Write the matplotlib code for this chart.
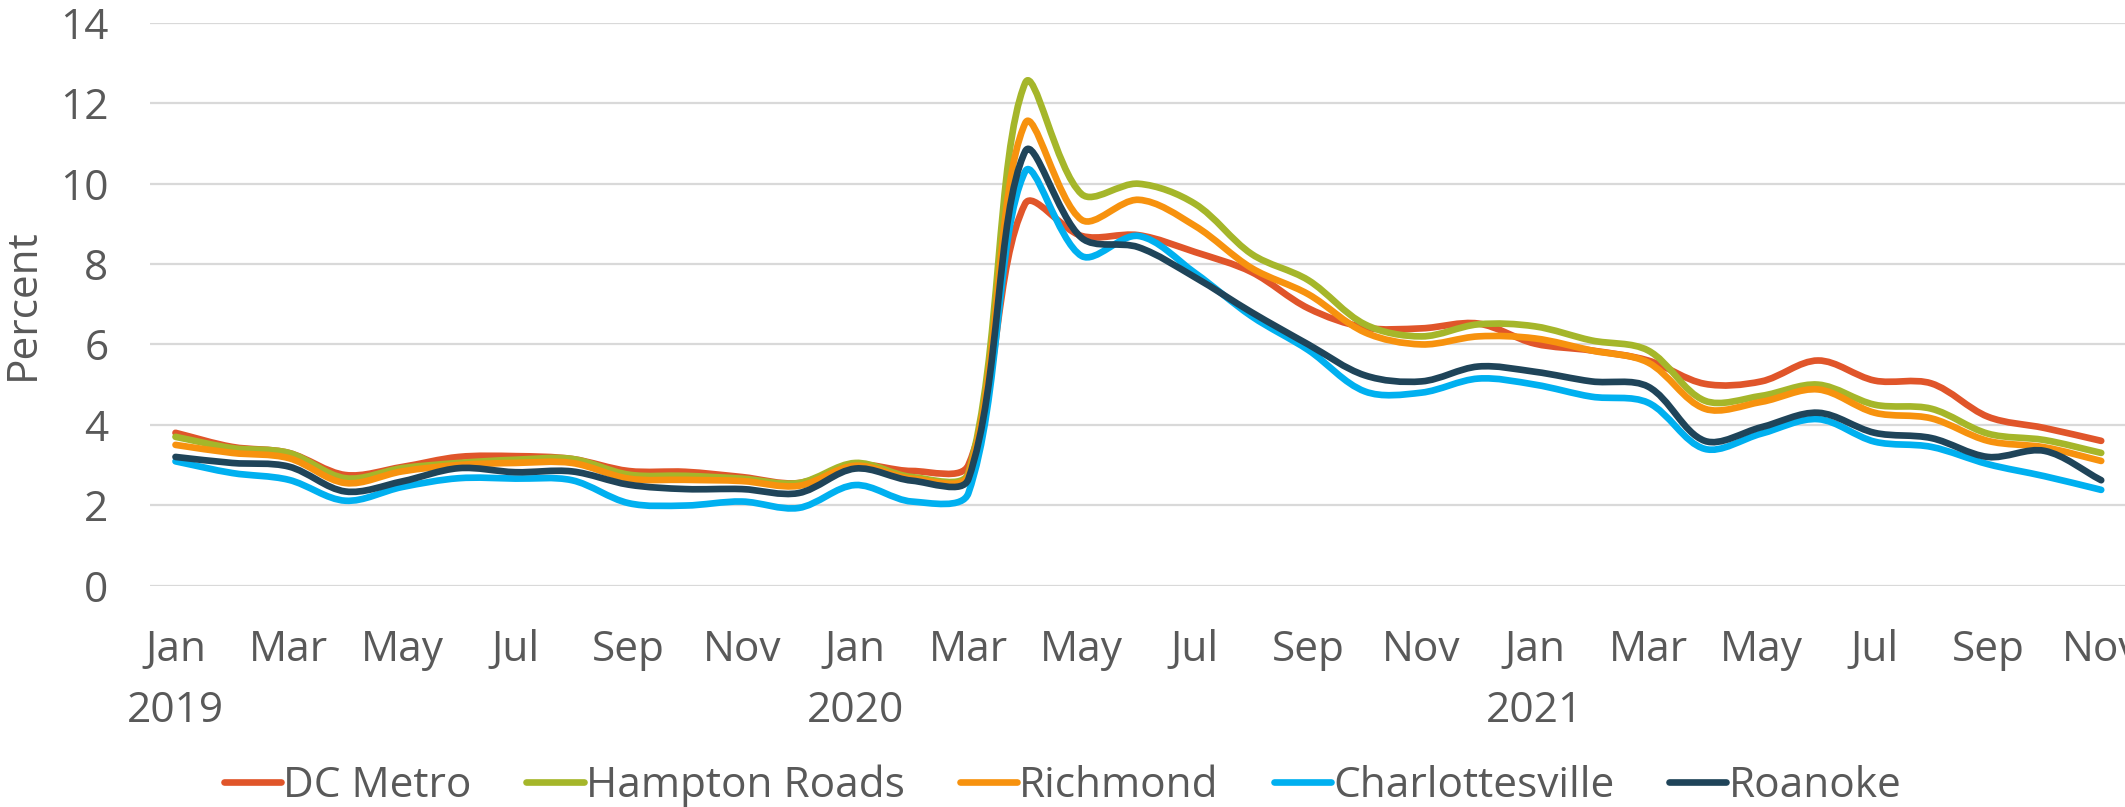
import numpy as np
import matplotlib
matplotlib.use("Agg")
import matplotlib.pyplot as plt
from matplotlib.path import Path
from matplotlib.patches import PathPatch
from matplotlib.lines import Line2D

plt.rcParams['font.family'] = ['Open Sans', 'DejaVu Sans']

# ---- data (monthly, Jan 2019 .. Nov 2021) ----
month_names = ['Jan', 'Feb', 'Mar', 'Apr', 'May', 'Jun',
               'Jul', 'Aug', 'Sep', 'Oct', 'Nov', 'Dec']
years = ['2019', '2020', '2021']
n_months = 35

dc_metro = [3.8, 3.45, 3.3, 2.75, 2.95, 3.2, 3.22, 3.15, 2.85, 2.83, 2.7, 2.55,
            3.0, 2.85, 3.0, 9.5, 8.7, 8.72, 8.3, 7.8, 6.9, 6.42, 6.4, 6.52,
            6.02, 5.85, 5.6, 5.02, 5.08, 5.6, 5.1, 5.03, 4.2, 3.92, 3.6]
hampton_roads = [3.7, 3.42, 3.3, 2.67, 2.92, 3.05, 3.13, 3.15, 2.76, 2.73, 2.66, 2.55,
                 3.05, 2.7, 2.8, 12.5, 9.74, 10.0, 9.5, 8.25, 7.6, 6.5, 6.2, 6.5,
                 6.45, 6.1, 5.85, 4.6, 4.72, 5.0, 4.5, 4.4, 3.78, 3.62, 3.3]
richmond = [3.5, 3.3, 3.17, 2.55, 2.84, 3.0, 3.05, 3.05, 2.66, 2.63, 2.6, 2.48,
            2.98, 2.66, 2.75, 11.5, 9.1, 9.6, 8.95, 7.9, 7.25, 6.3, 6.0, 6.2,
            6.15, 5.85, 5.55, 4.4, 4.57, 4.88, 4.3, 4.16, 3.6, 3.44, 3.1]
charlottesville = [3.09, 2.8, 2.63, 2.11, 2.45, 2.67, 2.66, 2.62, 2.05, 1.99, 2.09, 1.93,
                   2.5, 2.09, 2.3, 10.3, 8.2, 8.7, 7.78, 6.7, 5.86, 4.83, 4.8, 5.15,
                   5.0, 4.7, 4.55, 3.4, 3.78, 4.14, 3.58, 3.45, 3.02, 2.72, 2.38]
roanoke = [3.2, 3.05, 2.96, 2.34, 2.59, 2.92, 2.82, 2.84, 2.51, 2.40, 2.40, 2.30,
           2.91, 2.61, 2.65, 10.8, 8.65, 8.42, 7.67, 6.8, 6.0, 5.23, 5.08, 5.45,
           5.32, 5.08, 4.95, 3.6, 3.94, 4.3, 3.8, 3.67, 3.2, 3.35, 2.62]

series_names = ['DC Metro', 'Hampton Roads', 'Richmond', 'Charlottesville', 'Roanoke']
series_values = [dc_metro, hampton_roads, richmond, charlottesville, roanoke]
colors = ['#E0552A', '#A5B62A', '#F7920E', '#00B0F0', '#1F4459']

TEXT = '#595959'
FS = 30.5

W, H = 2125, 807
ax_left, ax_bottom_px, ax_top_px = 150, 585.5, 23
XLIM = (-0.45, 34.42)
YLIM = (0, 14)
SX = (W - ax_left) / (XLIM[1] - XLIM[0])          # px per month
SY = (ax_bottom_px - ax_top_px) / (YLIM[1] - YLIM[0])  # px per percent


def smooth_path(xs, ys):
    """Excel-style smoothed line: cubic Bezier through points, tangents
    weighted by neighbouring segment lengths measured on screen."""
    pts = np.column_stack([xs, ys]).astype(float)
    scr = pts * np.array([SX, SY])
    n = len(pts)

    def d(a, b):
        return np.hypot(*(scr[b] - scr[a]))

    verts = [pts[0]]
    codes = [Path.MOVETO]
    for i in range(n - 1):
        i0 = max(i - 1, 0)
        i3 = min(i + 2, n - 1)
        p0, p1, p2, p3 = pts[i0], pts[i], pts[i + 1], pts[i3]
        d01, d12, d23 = d(i0, i), d(i, i + 1), d(i + 1, i3)
        f1 = d12 / (d01 + d12) / 3.0 if d01 + d12 > 0 else 0
        f2 = d12 / (d12 + d23) / 3.0 if d12 + d23 > 0 else 0
        c1 = p1 + (p2 - p0) * f1
        c2 = p2 - (p3 - p1) * f2
        verts += [c1, c2, p2]
        codes += [Path.CURVE4] * 3
    return Path(verts, codes)


fig = plt.figure(figsize=(W / 100, H / 100), dpi=100)
ax = fig.add_axes([ax_left / W, (H - ax_bottom_px) / H,
                   1 - ax_left / W, (ax_bottom_px - ax_top_px) / H])

x = np.arange(n_months)
for name, vals, col in zip(series_names, series_values, colors):
    patch = PathPatch(smooth_path(x, vals), fill=False, edgecolor=col, lw=4.8,
                      capstyle='round', joinstyle='round', zorder=3)
    ax.add_patch(patch)

ax.set_xlim(*XLIM)
ax.set_ylim(*YLIM)

ax.set_yticks(np.arange(0, 15, 2))
ax.yaxis.grid(True, color='#D9D9D9', lw=1.6)
ax.set_axisbelow(True)
for s in ax.spines.values():
    s.set_visible(False)

tick_pos = x[::2]
ax.set_xticks(tick_pos)
ax.set_xticklabels([month_names[i % 12] for i in tick_pos])
ax.tick_params(axis='x', length=0, pad=31, labelsize=FS, labelcolor=TEXT)
ax.tick_params(axis='y', length=0, pad=30, labelsize=FS, labelcolor=TEXT)

for k, yr in enumerate(years):
    ax.annotate(yr, xy=(12 * k, 0), xycoords=('data', 'axes fraction'),
                xytext=(0, -(722 - ax_bottom_px)), textcoords='offset pixels',
                ha='center', va='baseline', fontsize=FS, color=TEXT,
                annotation_clip=False)

fig.text(23 / W, 1 - 304 / H, 'Percent', rotation=90, ha='center', va='center',
         fontsize=FS, color=TEXT)

handles = [Line2D([], [], color=c, lw=4.8, solid_capstyle='round') for c in colors]
fig.legend(handles, series_names, loc='center', bbox_to_anchor=(0.5, 1 - 786 / H),
           ncol=5, frameon=False, fontsize=FS, labelcolor=TEXT,
           handlelength=1.35, handletextpad=0.05, columnspacing=1.3,
           borderpad=0, borderaxespad=0)

fig.savefig('out.png', dpi=100)
